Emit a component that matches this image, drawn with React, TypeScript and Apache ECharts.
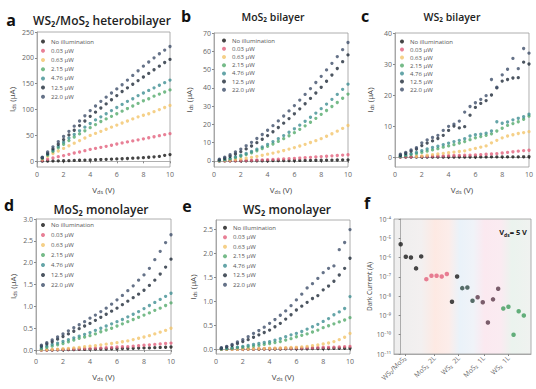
import { useEffect, useRef } from 'react';
import * as echarts from 'echarts';

// ---------- data ----------
const V = [0.4, 0.8, 1.2, 1.6, 2.0, 2.4, 2.8, 3.2, 3.6, 4.0, 4.4, 4.8, 5.2, 5.6, 6.0, 6.4, 6.8, 7.2, 7.6, 8.0, 8.4, 8.8, 9.2, 9.6, 10.0];
const powerLabels = ['No illumination', '0.03 μW', '0.63 μW', '2.15 μW', '4.76 μW', '12.5 μW', '22.0 μW'];
const xTicks = [0, 2, 4, 6, 8, 10];

// a: WS2/MoS2 heterobilayer (μA)
const a0 = [0.3, 0.5, 0.7, 0.9, 1.1, 1.4, 1.7, 2.0, 2.3, 2.6, 3.0, 3.4, 3.8, 4.2, 4.6, 5.0, 5.5, 6.0, 6.5, 7.1, 7.8, 8.6, 9.5, 11.5, 13];
const a1 = [2, 4, 6.5, 9, 11, 13.5, 16, 18, 20.5, 23, 25, 27, 29, 31, 33.5, 35.5, 37.5, 39.5, 41.5, 43.5, 45.5, 47.5, 49.5, 51.5, 53.5];
const a2 = [4.5, 9.5, 15, 20, 25, 30, 35, 40, 45, 50, 54, 58, 62, 66, 70, 74, 78, 82, 86, 89, 92, 96, 100, 104, 108];
const a3 = [6, 12, 19, 26, 33, 40, 47, 53, 59, 65, 71, 77, 82, 87, 92, 97, 102, 107, 112, 117, 121, 126, 130, 134, 138];
const a4 = [6.5, 13, 21, 29, 37, 45, 52, 59, 66, 73, 80, 86, 92, 98, 104, 110, 116, 121, 127, 132, 137, 142, 147, 152, 157];
const a5 = [7, 15, 24, 33, 42, 51, 60, 69, 78, 87, 95, 103, 111, 119, 127, 135, 142, 149, 156, 163, 170, 177, 184, 191, 197];
const a6 = [8, 18, 28, 38, 48, 58, 68, 78, 88, 98, 107, 116, 124, 132, 140, 148, 157, 166, 175, 184, 192, 200, 208, 215, 222];
const aYTicks = [0, 50, 100, 150, 200, 250];

// b: MoS2 bilayer (μA)
const b0 = [0.01, 0.02, 0.03, 0.04, 0.05, 0.06, 0.08, 0.1, 0.12, 0.14, 0.16, 0.18, 0.2, 0.22, 0.25, 0.28, 0.31, 0.34, 0.37, 0.4, 0.44, 0.48, 0.52, 0.56, 0.6];
const b1 = [0.02, 0.05, 0.1, 0.15, 0.2, 0.3, 0.4, 0.5, 0.6, 0.7, 0.85, 1, 1.15, 1.3, 1.45, 1.6, 1.8, 2, 2.2, 2.4, 2.6, 2.8, 3, 3.2, 3.4];
const b2 = [0.1, 0.3, 0.5, 0.8, 1.1, 1.5, 2, 2.5, 3.1, 3.7, 4.3, 5, 5.7, 6.5, 7.3, 8.2, 9.1, 10.1, 11.1, 12.2, 13.5, 14.9, 16.3, 17.8, 19.4];
const b3 = [0.2, 0.6, 1.1, 1.8, 2.6, 3.5, 4.5, 5.6, 6.8, 8, 9.3, 10.7, 12.2, 13.8, 15.5, 17.3, 19.2, 21.2, 23.3, 25.5, 27.6, 29.8, 32, 34.3, 36.6];
const b4 = [0.3, 0.8, 1.4, 2.2, 3.1, 4.1, 5.2, 6.4, 7.7, 9.1, 10.6, 12.2, 13.9, 15.7, 17.6, 19.6, 21.7, 23.9, 26.2, 28.6, 31.1, 33.7, 36.4, 39.2, 42];
const b5 = [0.6, 1.5, 2.6, 3.8, 5.1, 6.6, 8.2, 10, 11.9, 13.9, 16, 18.3, 20.7, 23.2, 25.8, 28.5, 31.3, 34.2, 37.2, 40.3, 43.6, 47, 50.6, 54.3, 58];
const b6 = [1, 2.1, 3.4, 4.9, 6.5, 8.3, 10.2, 12.3, 14.5, 16.8, 19.3, 21.9, 24.6, 27.4, 30.3, 33.3, 36.4, 39.6, 42.9, 46.3, 49.8, 53.4, 57.1, 60.9, 64.8];
const bYTicks = [0, 10, 20, 30, 40, 50, 60, 70];

// c: WS2 bilayer (μA)
const c0 = [0, 0, 0, 0, 0, 0, 0.01, 0.01, 0.01, 0.02, 0.02, 0.02, 0.03, 0.03, 0.03, 0.04, 0.04, 0.05, 0.05, 0.06, 0.06, 0.07, 0.08, 0.09, 0.1];
const c1 = [0, 0.05, 0.1, 0.15, 0.2, 0.25, 0.3, 0.35, 0.4, 0.45, 0.5, 0.55, 0.6, 0.65, 0.7, 0.8, 0.9, 1.0, 1.1, 1.3, 1.5, 1.7, 1.9, 2.1, 2.2];
const c2 = [null, null, null, 0.2, 0.4, 0.6, 0.8, 1.0, 1.2, 1.4, 1.6, 1.8, 2.0, 2.4, 2.8, 3.2, 3.6, 4.6, 5.4, 6.2, 6.8, 7.2, 7.6, 7.9, 8.2];
const c3 = [0.2, 0.5, 0.8, 1.1, 1.5, 1.9, 2.3, 2.7, 3.2, 3.6, 4.0, 4.5, 5.0, 5.6, 6.2, 6.6, 7.0, 7.5, 8.4, 9.3, 10.2, 10.8, 11.4, 12.2, 13.2];
const c4 = [0.3, 0.7, 1.1, 1.5, 2.1, 2.6, 3.1, 3.5, 4.0, 4.5, 5.0, 5.4, 5.9, 6.8, 7.2, 7.4, 7.7, 8.4, 11.4, 10.9, 11.3, 12.0, 12.5, 13.0, 13.8];
const c5 = [0.6, 1.2, 1.9, 2.6, 3.7, 4.5, 5.2, 6.0, 7.0, 8.6, 10.0, 9.4, 9.8, 13.5, 16.0, 17.3, 18.2, 20.0, 22.3, 24.5, 25.0, 25.5, 25.6, 30.6, 30.0];
const c6 = [0.9, 1.5, 2.3, 3.0, 4.6, 5.5, 6.3, 7.0, 8.6, 9.9, 10.6, 11.6, 14.5, 16.3, 17.5, 18.6, 19.8, 25.0, 22.5, 26.5, 28.3, 31.8, 28.5, 35.0, 33.5];
const cYTicks = [0, 10, 20, 30, 40];

// d: MoS2 monolayer (μA)
const d0 = [0, 0, 0, 0.005, 0.005, 0.01, 0.01, 0.015, 0.015, 0.02, 0.02, 0.025, 0.025, 0.03, 0.03, 0.035, 0.035, 0.04, 0.045, 0.05, 0.05, 0.055, 0.06, 0.065, 0.07];
const d1 = [0, 0, 0.005, 0.01, 0.015, 0.02, 0.025, 0.03, 0.035, 0.04, 0.045, 0.05, 0.055, 0.06, 0.07, 0.075, 0.08, 0.09, 0.1, 0.11, 0.12, 0.13, 0.14, 0.15, 0.16];
const d2 = [0.005, 0.01, 0.015, 0.02, 0.03, 0.04, 0.05, 0.06, 0.075, 0.09, 0.1, 0.12, 0.135, 0.15, 0.17, 0.19, 0.21, 0.24, 0.27, 0.3, 0.33, 0.37, 0.41, 0.45, 0.5];
const d3 = [0.03, 0.06, 0.09, 0.12, 0.15, 0.19, 0.23, 0.27, 0.3, 0.33, 0.37, 0.42, 0.46, 0.5, 0.55, 0.6, 0.65, 0.7, 0.75, 0.8, 0.85, 0.91, 0.96, 1.02, 1.08];
const d4 = [0.05, 0.09, 0.13, 0.16, 0.2, 0.24, 0.28, 0.32, 0.36, 0.4, 0.45, 0.5, 0.55, 0.6, 0.65, 0.7, 0.76, 0.82, 0.88, 0.95, 1.02, 1.09, 1.16, 1.23, 1.3];
const d5 = [0.09, 0.14, 0.19, 0.25, 0.31, 0.37, 0.43, 0.49, 0.55, 0.61, 0.68, 0.75, 0.82, 0.89, 0.96, 1.04, 1.12, 1.2, 1.28, 1.37, 1.48, 1.6, 1.74, 1.9, 2.08];
const d6 = [0.11, 0.17, 0.23, 0.3, 0.37, 0.44, 0.51, 0.58, 0.65, 0.73, 0.8, 0.88, 0.96, 1.05, 1.15, 1.25, 1.36, 1.47, 1.6, 1.72, 1.87, 2.07, 2.26, 2.46, 2.64];
const dYTicks = [0, 0.5, 1.0, 1.5, 2.0, 2.5, 3.0];

// e: WS2 monolayer (μA)
const e0 = [0, 0, 0, 0, 0, 0, 0, 0, 0.005, 0.005, 0.005, 0.005, 0.01, 0.01, 0.01, 0.01, 0.01, 0.015, 0.015, 0.015, 0.015, 0.02, 0.02, 0.02, 0.02];
const e1 = [0, 0, 0, 0, 0, 0.005, 0.005, 0.01, 0.01, 0.01, 0.015, 0.015, 0.02, 0.02, 0.025, 0.025, 0.03, 0.03, 0.035, 0.04, 0.04, 0.045, 0.05, 0.055, 0.06];
const e2 = [0, 0, 0, 0, 0.005, 0.005, 0.01, 0.01, 0.015, 0.02, 0.02, 0.025, 0.03, 0.035, 0.04, 0.05, 0.06, 0.075, 0.09, 0.11, 0.13, 0.16, 0.2, 0.25, 0.33];
const e3 = [0.005, 0.01, 0.02, 0.03, 0.04, 0.05, 0.065, 0.08, 0.1, 0.12, 0.14, 0.16, 0.19, 0.22, 0.26, 0.29, 0.32, 0.36, 0.4, 0.45, 0.49, 0.53, 0.57, 0.61, 0.66];
const e4 = [0.01, 0.02, 0.03, 0.045, 0.06, 0.08, 0.1, 0.12, 0.14, 0.16, 0.19, 0.22, 0.26, 0.3, 0.33, 0.37, 0.42, 0.47, 0.52, 0.58, 0.64, 0.72, 0.78, 0.85, 1.1];
const e5 = [0.02, 0.05, 0.08, 0.12, 0.16, 0.2, 0.25, 0.3, 0.35, 0.4, 0.47, 0.54, 0.63, 0.72, 0.82, 0.9, 0.98, 1.06, 1.12, 1.24, 1.32, 1.42, 1.55, 1.69, 1.9];
const e6 = [0.03, 0.06, 0.1, 0.15, 0.2, 0.26, 0.33, 0.39, 0.46, 0.54, 0.62, 0.71, 0.8, 0.91, 1.03, 1.15, 1.28, 1.37, 1.48, 1.6, 1.69, 1.74, 2.08, 2.23, 2.5];
const eYTicks = [0, 0.5, 1.0, 1.5, 2.0, 2.5];

// f: dark current at Vds = 5 V (A)
const fCategories = ['WS₂/MoS₂', 'MoS₂  2L', 'WS₂  2L', 'MoS₂  1L', 'WS₂  1L'];
const fCategoryTicks = [0.8, 6.6, 11.3, 16.2, 21.0];
const fDarkCurrent = [4.9e-6, 1.1e-6, 1.0e-6, 2.75e-7, 1.15e-6, 7.6e-8, 1.15e-7, 1.15e-7, 1.05e-7, 1.4e-7, 5.1e-9, 1.05e-7, 2.6e-8, 2.8e-8, 5.8e-9, 8.7e-9, 4.8e-9, 4.3e-10, 6.8e-9, 2.4e-8, 2.3e-9, 2.8e-9, 1.0e-10, 1.66e-9, 1.0e-9];
const fPointGroup = [0, 0, 0, 0, 0, 1, 1, 1, 1, 1, 0, 0, 2, 2, 2, 3, 3, 3, 3, 3, 4, 4, 4, 4, 4];
const fYTickExp = [-11, -10, -9, -8, -7, -6, -5, -4];

// ---------- styles ----------
const seriesColors = ['#151515', '#e2607c', '#f3c46a', '#54aa6c', '#3f8e92', '#1f2a38', '#3f4f6a'];
const fGroupColors = ['#1a1a1a', '#e2607c', '#2f4a44', '#5a3a4a', '#3f9c5c'];
const FONT = '"Open Sans", "Noto Sans", sans-serif';

const panels = [
  { curves: [a0, a1, a2, a3, a4, a5, a6], yTicks: aYTicks, yMin: -11, yMax: 250, dec: 0,
    grid: { left: 37, top: 32, width: 133, height: 135 }, legend: { left: 41, top: 38 }, step: 9.2 },
  { curves: [b0, b1, b2, b3, b4, b5, b6], yTicks: bYTicks, yMin: -3.3, yMax: 70, dec: 0,
    grid: { left: 214, top: 33, width: 134, height: 134 }, legend: { left: 222, top: 37.5 }, step: 8.2 },
  { curves: [c0, c1, c2, c3, c4, c5, c6], yTicks: cYTicks, yMin: -3.2, yMax: 40, dec: 0,
    grid: { left: 395, top: 33, width: 134, height: 134 }, legend: { left: 400, top: 38.5 }, step: 7.8 },
  { curves: [d0, d1, d2, d3, d4, d5, d6], yTicks: dYTicks, yMin: -0.09, yMax: 3.0, dec: 1,
    grid: { left: 36, top: 219, width: 135, height: 135 }, legend: { left: 41, top: 221 }, step: 10 },
  { curves: [e0, e1, e2, e3, e4, e5, e6], yTicks: eYTicks, yMin: -0.1, yMax: 2.7, dec: 1,
    grid: { left: 216, top: 220, width: 134, height: 134 }, legend: { left: 223, top: 224 }, step: 9.5 },
];

const tickLabelStyle = { fontSize: 7, color: '#666', fontFamily: FONT };
const axisLineStyle = { lineStyle: { color: '#9a9a9a', width: 0.8 } };

const supDigits: Record<string, string> = { '0': '⁰', '1': '¹', '2': '²', '3': '³', '4': '⁴', '5': '⁵', '6': '⁶', '7': '⁷', '8': '⁸', '9': '⁹', '-': '⁻' };
const toSup = (n: number) => String(n).split('').map((c) => supDigits[c] || c).join('');

const subRich = {
  m: { fontSize: 8, color: '#444', fontFamily: FONT, lineHeight: 11 },
  s: { fontSize: 5.5, color: '#444', fontFamily: FONT, verticalAlign: 'bottom', lineHeight: 7 },
};

function buildOption() {
  const grids: any[] = [];
  const xAxes: any[] = [];
  const yAxes: any[] = [];
  const series: any[] = [];
  const legends: any[] = [];

  panels.forEach((p, pi) => {
    grids.push({ ...p.grid, show: true, borderColor: '#9a9a9a', borderWidth: 0.8, backgroundColor: '#fff' });
    xAxes.push({
      type: 'value', gridIndex: pi, min: 0, max: 10,
      axisLine: axisLineStyle, splitLine: { show: false },
      axisTick: { show: true, length: 2, customValues: xTicks, lineStyle: { color: '#888' } },
      axisLabel: { ...tickLabelStyle, margin: 4, customValues: xTicks, formatter: (v: number) => String(v) },
      name: '{m|V}{s|ds}{m| (V)}', nameLocation: 'middle', nameGap: 17,
      nameTextStyle: { rich: subRich },
    });
    yAxes.push({
      type: 'value', gridIndex: pi, min: p.yMin, max: p.yMax,
      axisLine: axisLineStyle, splitLine: { show: false },
      axisTick: { show: true, length: 2, customValues: p.yTicks, lineStyle: { color: '#888' } },
      axisLabel: { ...tickLabelStyle, margin: 3, customValues: p.yTicks, formatter: (v: number) => v.toFixed(p.dec) },
      name: '{m|I}{s|ds}{m| (μA)}', nameLocation: 'middle', nameGap: p.dec ? 18 : 20,
      nameTextStyle: { rich: subRich },
    });
    p.curves.forEach((arr, si) => {
      series.push({
        type: 'scatter', name: powerLabels[si], xAxisIndex: pi, yAxisIndex: pi,
        symbolSize: 3.3, itemStyle: { color: seriesColors[si] },
        data: V.map((v, k) => [v, arr[k]]).filter((d) => d[1] != null),
      });
    });
    legends.push({
      orient: 'vertical', left: p.legend.left, top: p.legend.top,
      data: powerLabels.map((n) => ({ name: n, icon: 'circle' })),
      itemWidth: 4, itemHeight: 4, itemGap: 2, padding: 0,
      textStyle: { fontSize: 6, color: '#555', fontFamily: FONT, padding: [0, 0, 0, 1], lineHeight: p.step - 2, height: p.step - 2 },
      selectedMode: false,
    });
  });

  // panel f
  const fi = panels.length;
  grids.push({
    left: 394, top: 219, width: 137, height: 135, show: true, borderColor: '#9a9a9a', borderWidth: 0.8,
    backgroundColor: new echarts.graphic.LinearGradient(0, 0, 1, 0, [
      { offset: 0, color: '#eeeeee' },
      { offset: 0.2, color: '#f3f0f0' },
      { offset: 0.3, color: '#fde9e3' },
      { offset: 0.4, color: '#fcedea' },
      { offset: 0.48, color: '#eaf2f9' },
      { offset: 0.58, color: '#f0f3f8' },
      { offset: 0.66, color: '#fbe9f0' },
      { offset: 0.78, color: '#faebf1' },
      { offset: 0.86, color: '#ebf3ee' },
      { offset: 1, color: '#f0f2f0' },
    ]),
  });
  xAxes.push({
    type: 'value', gridIndex: fi, min: -1.3, max: 25.4,
    axisLine: axisLineStyle, splitLine: { show: false },
    axisTick: { show: true, length: 2, customValues: fCategoryTicks, lineStyle: { color: '#888' } },
    axisLabel: {
      ...tickLabelStyle, fontSize: 6.8, rotate: 45, margin: 3, customValues: fCategoryTicks,
      formatter: (v: number) => fCategories[fCategoryTicks.indexOf(v)] ?? '',
    },
  });
  yAxes.push({
    type: 'log', logBase: 10, gridIndex: fi, min: 1e-11, max: 1e-4,
    axisLine: axisLineStyle, splitLine: { show: false },
    axisTick: { show: true, length: 2, lineStyle: { color: '#888' } },
    axisLabel: {
      ...tickLabelStyle, fontSize: 6.5, margin: 3,
      formatter: (v: number) => {
        const e = Math.round(Math.log10(v));
        return fYTickExp.includes(e) ? '10' + toSup(e) : '';
      },
    },
    name: 'Dark Current (A)', nameLocation: 'middle', nameGap: 19,
    nameTextStyle: { fontSize: 6.5, color: '#444', fontFamily: FONT },
  });
  series.push({
    type: 'scatter', xAxisIndex: fi, yAxisIndex: fi, symbolSize: 4.5,
    data: fDarkCurrent.map((y, k) => ({ value: [k, y], itemStyle: { color: fGroupColors[fPointGroup[k]] } })),
  });

  const letter = (t: string, x: number, y: number) => ({
    type: 'text', x, y, style: { text: t, fontSize: 16, fontWeight: 'bold', fontFamily: FONT, fill: '#111', align: 'center', verticalAlign: 'middle' },
  });
  const title = (t: string, x: number, y: number, size: number) => ({
    type: 'text', x, y, style: { text: t, fontSize: size, fontWeight: 600, fontFamily: FONT, fill: '#222', align: 'center', verticalAlign: 'middle' },
  });

  const graphic: any[] = [
    letter('a', 11, 20), title('WS₂/MoS₂ heterobilayer', 102, 20.5, 12),
    letter('b', 186, 16), title('MoS₂ bilayer', 273, 17, 10.5),
    letter('c', 365, 16), title('WS₂ bilayer', 452, 17, 10.5),
    letter('d', 9, 205), title('MoS₂ monolayer', 101, 209.5, 12),
    letter('e', 187, 206), title('WS₂ monolayer', 287, 209.5, 12),
    letter('f', 367, 203),
    {
      type: 'text', x: 527, y: 232,
      style: {
        text: '{b|V}{s|ds}{b|= 5 V}', align: 'right', verticalAlign: 'middle',
        rich: {
          b: { fontSize: 7.5, fontWeight: 'bold', fill: '#222', fontFamily: FONT, lineHeight: 10 },
          s: { fontSize: 5, fontWeight: 'bold', fill: '#222', fontFamily: FONT, verticalAlign: 'bottom', lineHeight: 6 },
        },
      },
    },
  ];

  return {
    animation: false,
    backgroundColor: '#fff',
    textStyle: { fontFamily: FONT },
    grid: grids,
    xAxis: xAxes,
    yAxis: yAxes,
    legend: legends,
    series,
    graphic,
  };
}

export default function App() {
  const ref = useRef<HTMLDivElement>(null);
  useEffect(() => {
    if (!ref.current) return;
    const chart = echarts.init(ref.current, undefined, { renderer: 'svg' });
    chart.setOption(buildOption() as any);
    return () => chart.dispose();
  }, []);
  return <div ref={ref} style={{ position: 'fixed', left: 0, top: 0, width: 536, height: 389 }} />;
}
